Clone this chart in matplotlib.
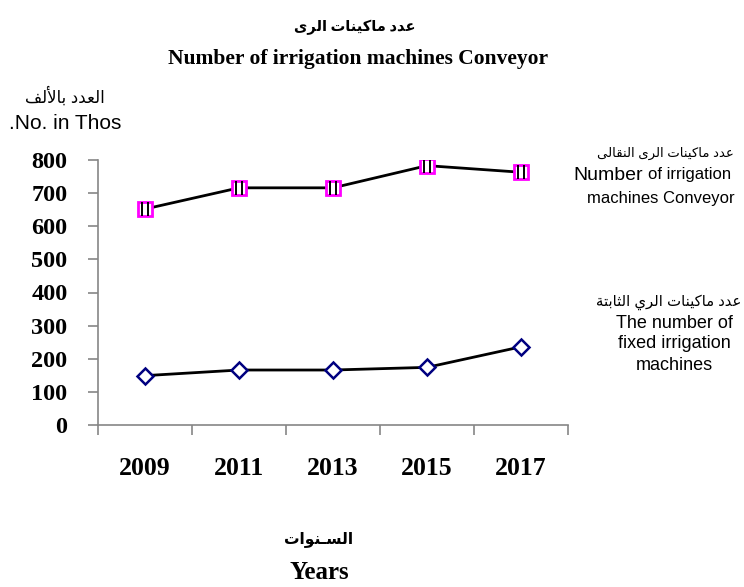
import numpy as np
import matplotlib
matplotlib.use("Agg")
import matplotlib.pyplot as plt
from matplotlib.path import Path

years = ['2009', '2011', '2013', '2015', '2017']
conveyor = [652, 716, 716, 783, 763]
fixed = [149, 166, 166, 174, 236]
y_ticks = [0, 100, 200, 300, 400, 500, 600, 700, 800]

# minimal arabic shaping (presentation forms) since matplotlib has no shaper
FORMS = {
    'ا': ('\uFE8D', '\uFE8E', None, None),
    'أ': ('\uFE83', '\uFE84', None, None),
    'ب': ('\uFE8F', '\uFE90', '\uFE91', '\uFE92'),
    'ة': ('\uFE93', '\uFE94', None, None),
    'ت': ('\uFE95', '\uFE96', '\uFE97', '\uFE98'),
    'ث': ('\uFE99', '\uFE9A', '\uFE9B', '\uFE9C'),
    'د': ('\uFEA9', '\uFEAA', None, None),
    'ر': ('\uFEAD', '\uFEAE', None, None),
    'س': ('\uFEB1', '\uFEB2', '\uFEB3', '\uFEB4'),
    'ع': ('\uFEC9', '\uFECA', '\uFECB', '\uFECC'),
    'ف': ('\uFED1', '\uFED2', '\uFED3', '\uFED4'),
    'ق': ('\uFED5', '\uFED6', '\uFED7', '\uFED8'),
    'ك': ('\uFED9', '\uFEDA', '\uFEDB', '\uFEDC'),
    'ل': ('\uFEDD', '\uFEDE', '\uFEDF', '\uFEE0'),
    'م': ('\uFEE1', '\uFEE2', '\uFEE3', '\uFEE4'),
    'ن': ('\uFEE5', '\uFEE6', '\uFEE7', '\uFEE8'),
    'و': ('\uFEED', '\uFEEE', None, None),
    'ى': ('\uFEEF', '\uFEF0', None, None),
    'ي': ('\uFEF1', '\uFEF2', '\uFEF3', '\uFEF4'),
    'ـ': ('\u0640', '\u0640', '\u0640', '\u0640'),
    '\uFEF7': ('\uFEF7', '\uFEF8', None, None),
    '\uFEFB': ('\uFEFB', '\uFEFC', None, None),
}


def ar(text):
    text = text.replace('لأ', '\uFEF7').replace('لا', '\uFEFB')
    out = []
    for i, c in enumerate(text):
        if c not in FORMS:
            out.append(c)
            continue
        prev = text[i - 1] if i > 0 else ''
        nxt = text[i + 1] if i + 1 < len(text) else ''
        pj = prev in FORMS and FORMS[prev][2] is not None
        nj = FORMS[c][2] is not None and nxt in FORMS
        iso, fin, ini, med = FORMS[c]
        if pj and nj:
            out.append(med)
        elif pj:
            out.append(fin)
        elif nj:
            out.append(ini)
        else:
            out.append(iso)
    return ''.join(out)[::-1]


serif = ['Liberation Serif', 'DejaVu Sans']
sans = ['Liberation Sans', 'DejaVu Sans']
grey = '#868686'

fig = plt.figure(figsize=(7.44, 5.87), dpi=100)
ax = fig.add_axes([98 / 744, 1 - 425 / 587, 470 / 744, 265 / 587])

x = np.arange(len(years))

# two small bars drawn inside the square marker
bars = Path([(-0.4, -1), (-0.4, 1), (0.4, -1), (0.4, 1)],
            [Path.MOVETO, Path.LINETO, Path.MOVETO, Path.LINETO])

ax.plot(x, conveyor, color='black', lw=2, zorder=2)
ax.plot(x, conveyor, ls='none', marker='s', ms=10, mfc='white', mec='#FF00FF', mew=2, zorder=3)
ax.plot(x, conveyor, ls='none', marker=bars, ms=10, mec='black', mew=1.4, zorder=4)

ax.plot(x, fixed, color='black', lw=2, zorder=2)
ax.plot(x, fixed, ls='none', marker='D', ms=8.5, mfc='white', mec='#000080', mew=1.8, zorder=3)

ax.set_xlim(-0.5, len(years) - 0.5)
ax.set_ylim(0, 800)

for s in ['top', 'right']:
    ax.spines[s].set_visible(False)
for s in ['left', 'bottom']:
    ax.spines[s].set_color(grey)
    ax.spines[s].set_linewidth(1.2)

ax.set_yticks(y_ticks)
ax.set_yticklabels([str(v) for v in y_ticks], fontfamily=serif, fontweight='bold', fontsize=17.5)
ax.tick_params(axis='y', direction='out', length=7, width=1.2, color=grey, pad=15)

ax.set_xticks(np.arange(-0.5, len(years), 1.0))
ax.set_xticklabels([])
ax.tick_params(axis='x', direction='out', length=7, width=1.2, color=grey)
ax.set_xticks(x, minor=True)
ax.set_xticklabels(years, minor=True, fontfamily=serif, fontweight='bold', fontsize=18.5)
ax.tick_params(axis='x', which='minor', length=0, pad=23)

# titles
fig.text(355 / 744, 1 - 27 / 587, ar('عدد ماكينات الرى'), ha='center', va='center',
         fontfamily=serif, fontweight='bold', fontsize=10.5)
fig.text(358 / 744, 1 - 59 / 587, 'Number of irrigation machines Conveyor', ha='center', va='center',
         fontfamily=serif, fontweight='bold', fontsize=15.5)

# y axis label
fig.text(65 / 744, 1 - 96 / 587, ar('العدد بالألف'), ha='center', va='center',
         fontfamily=sans, fontsize=12)
fig.text(65 / 744, 1 - 123 / 587, '.No. in Thos', ha='center', va='center',
         fontfamily=sans, fontsize=15)

# x axis label
fig.text(319 / 744, 1 - 539 / 587, ar('السـنوات'), ha='center', va='center',
         fontfamily=serif, fontweight='bold', fontsize=11.2)
fig.text(319 / 744, 1 - 579 / 587, 'Years', ha='center', va='baseline',
         fontfamily=serif, fontweight='bold', fontsize=18)

# series labels on the right
fig.text(665 / 744, 1 - 153 / 587, ar('عدد ماكينات الرى النقالى'), ha='center', va='center',
         fontfamily=sans, fontsize=9.5)
fig.text(643 / 744, 1 - 175 / 587, 'Number', ha='right', va='center',
         fontfamily=sans, fontsize=14)
fig.text(648 / 744, 1 - 175 / 587, 'of irrigation', ha='left', va='center',
         fontfamily=sans, fontsize=12)
fig.text(661 / 744, 1 - 198 / 587, 'machines Conveyor', ha='center', va='center',
         fontfamily=sans, fontsize=12)

fig.text(669 / 744, 1 - 302 / 587, ar('عدد ماكينات الري الثابتة'), ha='center', va='center',
         fontfamily=sans, fontsize=10.7)
fig.text(674 / 744, 1 - 323 / 587, 'The number of', ha='center', va='center',
         fontfamily=sans, fontsize=13)
fig.text(674 / 744, 1 - 344 / 587, 'fixed irrigation', ha='center', va='center',
         fontfamily=sans, fontsize=13)
fig.text(674 / 744, 1 - 365 / 587, 'machines', ha='center', va='center',
         fontfamily=sans, fontsize=13)

fig.savefig('out.png', dpi=100)
